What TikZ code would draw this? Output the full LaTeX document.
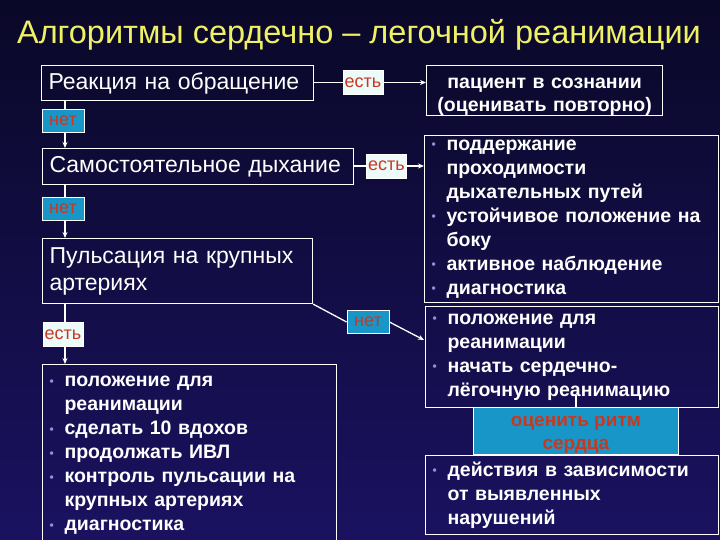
\documentclass[tikz,border=0pt]{standalone}
\usepackage{fontspec}
\setmainfont{Liberation Sans}
\usetikzlibrary{arrows.meta}
\definecolor{bgtop}{RGB}{10,8,40}
\definecolor{bgbot}{RGB}{26,18,96}
\definecolor{ttl}{RGB}{240,240,100}
\definecolor{tealc}{RGB}{24,150,200}
\definecolor{redt}{RGB}{200,56,32}
\definecolor{pale}{RGB}{236,250,250}
\definecolor{bul}{RGB}{150,140,220}
\newcommand\bt{\makebox[15pt][l]{\textcolor{bul}{\fontsize{12}{12}\selectfont\raisebox{1.5pt}{•}}}}
\newcommand\ind{\hspace*{15pt}}
\begin{document}
\begin{tikzpicture}[x=1pt,y=-1pt,
  box/.style={draw=white, line width=1.1pt, text=white, inner xsep=7pt, inner ysep=0pt, anchor=north west},
  big/.style={box, align=left, font=\fontsize{23}{27}\selectfont},
  lst/.style={box, align=left, font=\bfseries\fontsize{19.5}{24}\selectfont},
  lab/.style={draw=white, line width=0.8pt, inner sep=0pt, text=redt, font=\fontsize{18}{18}\selectfont},
  est/.style={lab, fill=pale, minimum width=40pt, minimum height=24pt},
  net/.style={lab, fill=tealc, minimum width=42pt, minimum height=23pt},
  con/.style={draw=white, line width=1.3pt},
  arr/.style={con, -{Stealth[length=6pt,width=5pt]}}]
\useasboundingbox (0,0) rectangle (720,540);
\shade[top color=bgtop, bottom color=bgbot] (0,0) rectangle (720,540);
\clip (0,0) rectangle (720,540);

\node[text=ttl, font=\fontsize{32.5}{36}\selectfont] (title) at (359,35) {Алгоритмы сердечно – легочной реанимации};

\node[big, text width=258pt, minimum height=35pt] (react) at (41,65) {Реакция на обращение};
\node[box, inner xsep=0pt, align=center, text width=236pt, minimum height=48pt, font=\bfseries\fontsize{19.5}{23}\selectfont] (pat) at (426,65) {\rule{0pt}{23pt}пациент в сознании\\(оценивать повторно)};
\node[est] (est1) at (363,82.5) {есть};

\node[net] (net1) at (63,121) {нет};
\node[big, text width=297pt, minimum height=36pt] (breath) at (42,148) {Самостоятельное дыхание};
\node[est] (est2) at (386.5,166) {есть};
\node[lst, text width=280pt, minimum height=167pt] (support) at (424,135) {\bt поддержание\\\ind проходимости\\\ind дыхательных путей\\\bt устойчивое положение на\\\ind боку\\\bt активное наблюдение\\\bt диагностика};

\node[net] (net2) at (63,208.5) {нет};
\node[big, text width=256pt, minimum height=65pt] (pulse) at (42,238) {Пульсация на крупных\\артериях};
\node[net] (net3) at (368,322) {нет};
\node[est] (est3) at (63,334.5) {есть};

\node[lst, text width=280pt, minimum height=182pt] (todo) at (42,364) {\bt положение для\\\ind реанимации\\\bt сделать 10 вдохов\\\bt продолжать ИВЛ\\\bt контроль пульсации на\\\ind крупных артериях\\\bt диагностика};

\node[lst, text width=279pt, minimum height=101pt] (resus) at (425,306) {\bt положение для\\\ind реанимации\\\bt начать сердечно-\\\ind лёгочную реанимацию};
\node[draw=white, line width=0.8pt, fill=tealc, text=redt, anchor=north west, minimum width=205pt, minimum height=47pt, inner sep=0pt, align=center, font=\bfseries\fontsize{19}{23}\selectfont] (ritm) at (473,407) {\rule{0pt}{19pt}оценить ритм\\сердца};
\node[lst, text width=279pt, minimum height=79pt] (act) at (425,455) {\bt действия в зависимости\\\ind от выявленных\\\ind нарушений};

\coordinate (resin) at (424,340);

\draw[con] (react.east |- est1) -- (est1.west);
\draw[arr] (est1.east) -- (pat.west |- est1);
\draw[con] (react.south -| 65,0) -- (net1.north -| 65,0);
\draw[arr] (net1.south -| 65,0) -- (breath.north -| 65,0);
\draw[con] (breath.east |- est2) -- (est2.west);
\draw[arr] (est2.east) -- (support.west |- est2);
\draw[con] (breath.south -| 65,0) -- (net2.north -| 65,0);
\draw[arr] (net2.south -| 65,0) -- (pulse.north -| 65,0);
\draw[con] (pulse.south east) -- (net3.west);
\draw[arr] (net3.east) -- (resin);
\draw[con] (pulse.south -| 65,0) -- (est3.north -| 65,0);
\draw[arr] (est3.south -| 65,0) -- (todo.north -| 65,0);
\draw[con] (ritm.north) -- ++(0,-12);
\end{tikzpicture}
\end{document}
